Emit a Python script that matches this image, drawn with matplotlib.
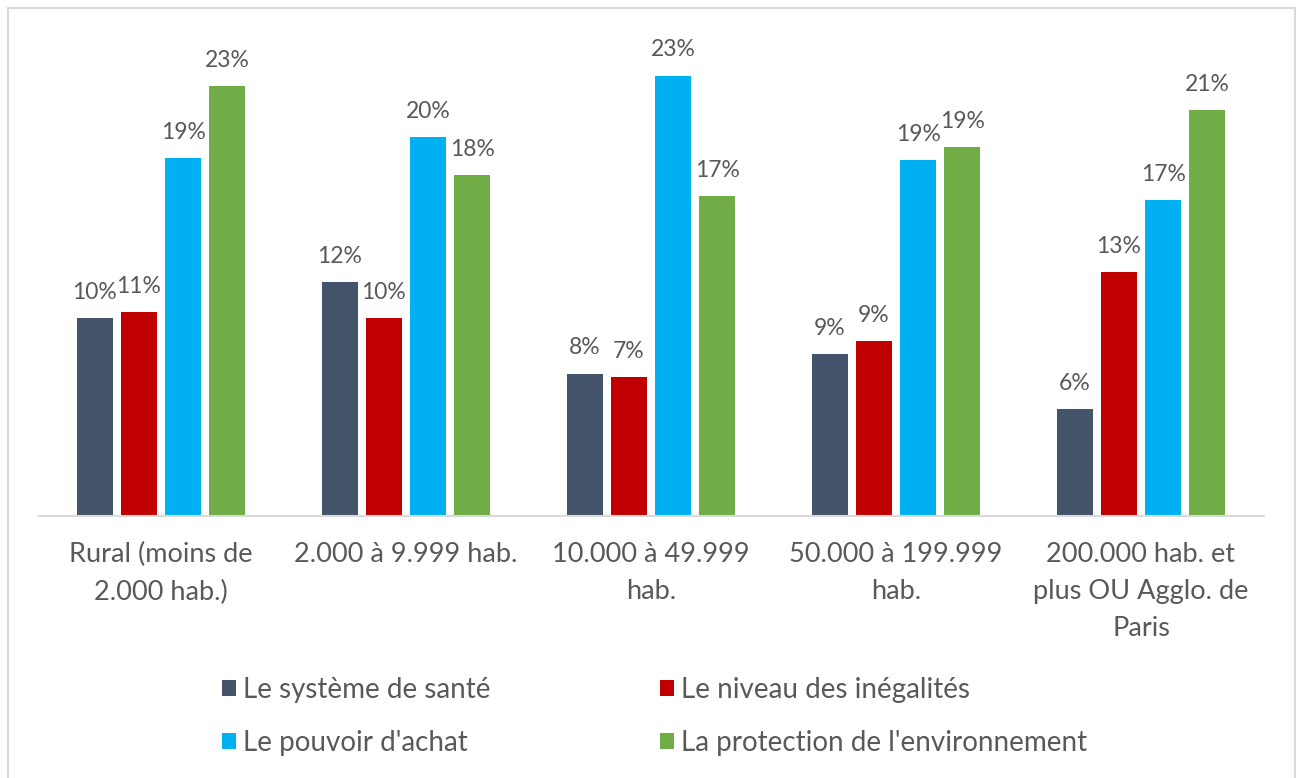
import numpy as np
import matplotlib.pyplot as plt
from matplotlib.patches import Rectangle

categories = ["Rural (moins de\n2.000 hab.)", "2.000 à 9.999 hab.", "10.000 à 49.999\nhab.",
              "50.000 à 199.999\nhab.", "200.000 hab. et\nplus OU Agglo. de\nParis"]
sante = [10.43, 12.33, 7.5, 8.54, 5.64]
inegalites = [10.75, 10.43, 7.32, 9.22, 12.86]
pouvoir = [18.86, 19.97, 23.2, 18.76, 16.65]
environnement = [22.65, 17.97, 16.86, 19.44, 21.39]
series_names = ["Le système de santé", "Le niveau des inégalités",
                "Le pouvoir d'achat", "La protection de l'environnement"]
colors = ["#44546a", "#c00000", "#00b0f0", "#70ad47"]

plt.rcParams['font.family'] = ['Lato', 'DejaVu Sans']
text_col = "#595959"

fig = plt.figure(figsize=(12.99, 7.78), dpi=100)
ax = fig.add_axes([38.5 / 1299, 1 - 516 / 778, 1225 / 1299, 486 / 778])

x = np.arange(len(categories))
offsets = [-0.27, -0.09, 0.09, 0.27]
width = 0.147
handles = []
for vals, off, col, name in zip([sante, inegalites, pouvoir, environnement], offsets, colors, series_names):
    bars = ax.bar(x + off, vals, width, color=col, label=name)
    handles.append(bars)
    for b, v in zip(bars, vals):
        ax.text(b.get_x() + b.get_width() / 2, v + 0.8, f"{round(v)}%",
                ha="center", va="bottom", fontsize=16.5, color=text_col)

ax.set_xlim(-0.5, 4.5)
ax.set_ylim(0, 25.6)
ax.set_yticks([])
for s in ["top", "right", "left"]:
    ax.spines[s].set_visible(False)
ax.spines["bottom"].set_color("#d9d9d9")
ax.spines["bottom"].set_linewidth(1.5)
ax.set_xticks(x)
ax.set_xticklabels(categories, fontsize=19.5, color=text_col, linespacing=1.6)
ax.tick_params(axis="x", length=0, pad=19)

leg_kw = dict(frameon=False, fontsize=20, handlelength=0.5, handleheight=0.5,
              handletextpad=0.25, labelspacing=0.98, labelcolor=text_col, loc="upper left")
fig.legend([handles[0], handles[2]], [series_names[0], series_names[2]],
           bbox_to_anchor=(197 / 1299, 1 - 652 / 778), **leg_kw)
fig.legend([handles[1], handles[3]], [series_names[1], series_names[3]],
           bbox_to_anchor=(635 / 1299, 1 - 652 / 778), **leg_kw)

fig.patches.append(Rectangle((8 / 1299, -0.01), 1287 / 1299, 1 - 8 / 778 + 0.01,
                             transform=fig.transFigure, fill=False,
                             edgecolor="#d9d9d9", linewidth=1.5))

fig.savefig("out.png", dpi=100, facecolor="white")
